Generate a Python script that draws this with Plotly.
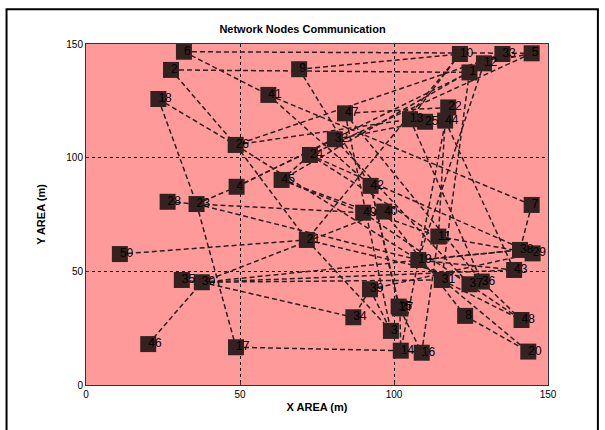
import plotly.graph_objects as go

# Node ids and positions (m)
node_ids = list(range(1, 51))
node_x = [124.5, 27.6, 99.0, 48.9, 144.7, 31.8, 144.7, 123.1, 69.2, 121.4,
          114.4, 129.2, 105.2, 102.2, 101.5, 109.0, 48.7, 23.5, 107.9, 143.6,
          71.7, 117.6, 35.9, 72.7, 110.1, 48.6, 101.9, 26.5, 145.0, 37.6,
          115.5, 80.8, 135.2, 86.8, 31.1, 128.5, 124.5, 140.9, 92.2, 96.8,
          59.2, 92.4, 139.0, 116.6, 63.5, 20.2, 84.1, 141.4, 90.0, 11.0]
node_y = [137.5, 138.6, 23.8, 87.2, 145.9, 146.6, 79.2, 30.4, 138.9, 145.6,
          65.3, 141.5, 116.9, 15.1, 34.5, 14.2, 16.6, 125.8, 55.0, 14.7,
          63.8, 122.1, 79.6, 101.2, 115.8, 105.6, 33.7, 80.6, 57.9, 45.2,
          46.2, 108.1, 145.6, 29.8, 46.2, 45.5, 44.3, 59.4, 42.1, 76.3,
          127.6, 87.6, 50.6, 116.3, 90.2, 18.0, 119.5, 28.6, 75.8, 57.6]

# Communication links (node id pairs)
edge_from = [6, 6, 2, 9, 2, 18, 18, 28, 23, 4, 4, 45, 26, 26, 26, 45, 45, 50,
             46, 23, 17, 30, 30, 30, 30, 35, 39, 39, 27, 27, 14, 16, 8, 19,
             48, 7, 7, 44, 44, 22, 12, 1, 12, 5, 33, 10, 25, 22, 23, 23, 41,
             9, 47, 32, 24, 42, 40, 49, 21, 11, 19, 31, 43, 13, 10, 5, 33,
             47, 42, 39, 30, 24, 21]
edge_to = [5, 41, 1, 10, 26, 26, 23, 23, 4, 1, 32, 24, 13, 21, 19, 49, 11, 21,
           30, 17, 14, 34, 43, 31, 40, 30, 34, 3, 14, 16, 16, 11, 20, 20,
           36, 38, 41, 43, 11, 14, 19, 31, 45, 24, 26, 21, 32, 47, 49, 19, 42,
           42, 36, 37, 29, 27, 8, 48, 3, 29, 38, 48, 19, 36, 13, 12, 1,
           3, 15, 29, 38, 11, 36]

ex, ey = [], []
for a, b in zip(edge_from, edge_to):
    ex += [node_x[a - 1], node_x[b - 1], None]
    ey += [node_y[a - 1], node_y[b - 1], None]

fig = go.Figure()
fig.add_trace(go.Scatter(x=ex, y=ey, mode="lines",
                         line=dict(color="#2a2020", width=1.5, dash="5px,3px"),
                         hoverinfo="skip", showlegend=False))
fig.add_trace(go.Scatter(x=node_x, y=node_y, mode="markers",
                         marker=dict(symbol="square", size=16, color="#33221f",
                                     line=dict(width=0)),
                         showlegend=False))
fig.add_trace(go.Scatter(x=node_x, y=node_y, mode="text",
                         text=[str(i) for i in node_ids],
                         textposition="middle right",
                         textfont=dict(family="Arial", size=12, color="black"),
                         showlegend=False))

axis_common = dict(range=[0, 150], tickvals=[0, 50, 100, 150],
                   showgrid=True, gridcolor="black", griddash="dot", gridwidth=1,
                   showline=True, linecolor="#333333", linewidth=1, mirror=True,
                   zeroline=False, ticks="inside", ticklen=3, tickcolor="#333333",
                   tickfont=dict(family="Arial Black, Arial", size=10, color="black"))

fig.update_layout(
    width=605, height=430,
    margin=dict(l=86, r=57, t=44, b=45),
    paper_bgcolor="white", plot_bgcolor="#ff9a9a",
    title=dict(text="<b>Network Nodes Communication</b>", x=0.5, xanchor="center",
               y=1 - 29 / 430, yanchor="middle",
               font=dict(family="Arial", size=11, color="black")),
    xaxis=dict(**axis_common,
               title=dict(text="<b>X AREA (m)</b>", standoff=4,
                          font=dict(family="Arial", size=11, color="black"))),
    yaxis=dict(**axis_common,
               title=dict(text="<b>Y AREA (m)</b>", standoff=18,
                          font=dict(family="Arial", size=11, color="black"))),
    shapes=[dict(type="rect", xref="paper", yref="paper",
                 x0=-0.172, x1=1.108, y0=-0.15, y1=1.102,
                 line=dict(color="black", width=2), fillcolor="rgba(0,0,0,0)",
                 layer="below")],
)

fig.write_html("out.html")
